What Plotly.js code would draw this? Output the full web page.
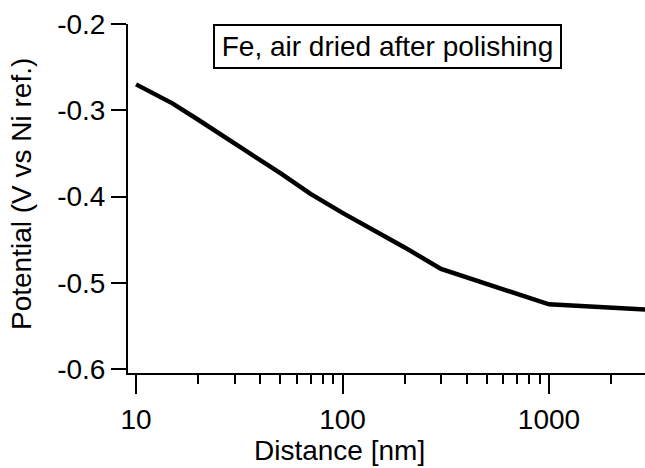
<!DOCTYPE html>
<html>
<head>
<meta charset="utf-8">
<script src="https://cdn.plot.ly/plotly-3.0.1.min.js"></script>
<style>
  html, body { margin: 0; padding: 0; background: #fff; }
  #chart { width: 645px; height: 468px; }
</style>
</head>
<body>
<div id="chart"></div>
<script>
// Surface potential of Fe versus distance
const distanceNm = [10, 15, 20, 30, 50, 70, 100, 200, 300, 1000, 3000];
const potentialV = [-0.270, -0.292, -0.311, -0.338, -0.373, -0.397, -0.419, -0.459, -0.484, -0.525, -0.531];
const xTickVals = [10, 100, 1000];
const xTickText = ['10', '100', '1000'];
const yTickVals = [-0.6, -0.5, -0.4, -0.3, -0.2];
const yTickText = ['-0.6', '-0.5', '-0.4', '-0.3', '-0.2'];
const xTitle = 'Distance [nm]';
const yTitle = 'Potential (V vs Ni ref.)';
const sampleLabel = 'Fe, air dried after polishing';

const font = { family: 'Liberation Sans, Arial, sans-serif', size: 28, color: '#000' };

const trace = {
  x: distanceNm,
  y: potentialV,
  type: 'scatter',
  mode: 'lines',
  line: { color: '#000', width: 4.5 },
  hoverinfo: 'skip'
};

const layout = {
  width: 645,
  height: 468,
  margin: { l: 128, r: 0, t: 24, b: 95 },
  paper_bgcolor: '#fff',
  plot_bgcolor: '#fff',
  font: font,
  showlegend: false,
  xaxis: {
    type: 'log',
    range: [0.961, 3.465],
    tickvals: xTickVals,
    ticktext: xTickText,
    ticks: 'outside',
    ticklen: 19,
    tickwidth: 2,
    tickcolor: '#000',
    ticklabelstandoff: 1,
    minor: { ticks: 'outside', ticklen: 9, tickwidth: 2, tickcolor: '#000', dtick: 'D1', showgrid: false },
    showline: true,
    linecolor: '#000',
    linewidth: 2,
    showgrid: false,
    zeroline: false,
    tickfont: font
  },
  yaxis: {
    range: [-0.6046, -0.2],
    tickvals: yTickVals,
    ticktext: yTickText,
    ticks: 'outside',
    ticklen: 15,
    tickwidth: 2,
    tickcolor: '#000',
    showline: true,
    linecolor: '#000',
    linewidth: 2,
    showgrid: false,
    zeroline: false,
    tickfont: font
  },
  annotations: [
    {
      // axis titles, placed as free text
      xref: 'paper', yref: 'paper',
      x: 0.41, y: -0.222,
      xanchor: 'center', yanchor: 'middle',
      text: xTitle, showarrow: false, font: font, borderpad: 0
    },
    {
      xref: 'paper', yref: 'paper',
      x: -0.205, y: 0.513,
      xanchor: 'center', yanchor: 'middle',
      textangle: -90,
      text: yTitle, showarrow: false, font: font
    },
    {
      // boxed sample label
      xref: 'paper', yref: 'paper',
      x: 0.502, y: 0.9355,
      xanchor: 'center', yanchor: 'middle',
      text: sampleLabel,
      showarrow: false,
      font: font,
      width: 343,
      height: 39,
      bordercolor: '#000',
      borderwidth: 2,
      borderpad: 1,
      bgcolor: '#fff'
    }
  ]
};

Plotly.newPlot('chart', [trace], layout, { staticPlot: true, displayModeBar: false });
</script>
</body>
</html>
